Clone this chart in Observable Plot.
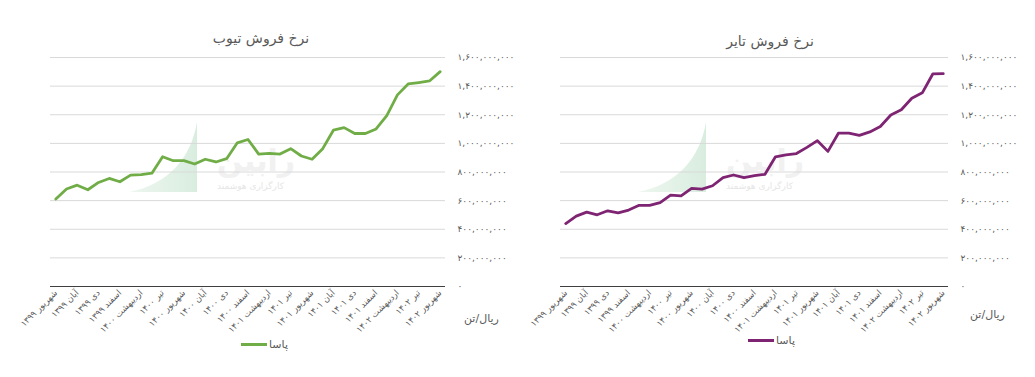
<!DOCTYPE html>
<html>
<head>
<meta charset="utf-8">
<script src="https://cdn.jsdelivr.net/npm/d3@7"></script>
<script src="https://cdn.jsdelivr.net/npm/@observablehq/plot@0.6"></script>
<style>
  html, body { margin: 0; padding: 0; background: #fff; }
  body { width: 1035px; height: 377px; position: relative; overflow: hidden; font-family: "DejaVu Sans", sans-serif; color: #595959; }
  .panel { position: absolute; top: 0; width: 525px; height: 377px; }
  .title { position: absolute; top: 30px; width: 200px; text-align: center; font-size: 14px; color: #595959; direction: rtl; }
  .unit { position: absolute; font-size: 11px; color: #595959; direction: rtl; white-space: nowrap; }
  .legend { position: absolute; font-size: 11px; color: #595959; display: flex; align-items: center; gap: 2px; }
  .legend .sw { width: 26px; height: 3px; display: inline-block; }
  .plotbox { position: absolute; top: 48px; left: 0; }
  .wm { position: absolute; pointer-events: none; }
  .wm .big { position: absolute; font-size: 30px; line-height: 34px; color: #f1f1f1; direction: rtl; white-space: nowrap; font-weight: bold; letter-spacing: 2px; }
  .wm .small { position: absolute; font-size: 9px; line-height: 11px; color: #e6e6e6; direction: rtl; white-space: nowrap; letter-spacing: 1px; }
</style>
</head>
<body>
<div id="left" class="panel" style="left:0px"></div>
<div id="right" class="panel" style="left:510px"></div>
<script>
// Monthly categories (شهریور ۱۳۹۹ .. شهریور ۱۴۰۲)
const months = [
  "شهریور ۱۳۹۹","مهر ۱۳۹۹","آبان ۱۳۹۹","آذر ۱۳۹۹","دی ۱۳۹۹","بهمن ۱۳۹۹","اسفند ۱۳۹۹",
  "فروردین ۱۴۰۰","اردیبهشت ۱۴۰۰","خرداد ۱۴۰۰","تیر ۱۴۰۰","مرداد ۱۴۰۰","شهریور ۱۴۰۰","مهر ۱۴۰۰","آبان ۱۴۰۰","آذر ۱۴۰۰","دی ۱۴۰۰","بهمن ۱۴۰۰","اسفند ۱۴۰۰",
  "فروردین ۱۴۰۱","اردیبهشت ۱۴۰۱","خرداد ۱۴۰۱","تیر ۱۴۰۱","مرداد ۱۴۰۱","شهریور ۱۴۰۱","مهر ۱۴۰۱","آبان ۱۴۰۱","آذر ۱۴۰۱","دی ۱۴۰۱","بهمن ۱۴۰۱","اسفند ۱۴۰۱",
  "فروردین ۱۴۰۲","اردیبهشت ۱۴۰۲","خرداد ۱۴۰۲","تیر ۱۴۰۲","مرداد ۱۴۰۲","شهریور ۱۴۰۲"
];
// Tube sale price, million rial per ton (پاسا)
const tubeMillions = [611,681,708,676,727,755,732,778,782,792,907,879,879,856,889,870,893,1004,1027,925,930,925,963,912,889,963,1092,1110,1069,1069,1101,1194,1339,1415,1425,1436,1501];
// Tyre sale price, million rial per ton (پاسا)
const tyreMillions = [440,492,520,501,529,515,534,567,567,586,638,633,685,680,704,760,779,760,774,784,906,920,929,972,1019,944,1071,1071,1056,1080,1118,1198,1235,1315,1353,1485,1487];
const yTicks = [0,200e6,400e6,600e6,800e6,1000e6,1200e6,1400e6,1600e6];
const seriesName = "پاسا";
const unitLabel = "ریال/تن";
const titles = { tube: "نرخ فروش تیوب", tyre: "نرخ فروش تایر" };
const colors = { tube: "#70AD47", tyre: "#7E2472" };
const watermark = { big: "رابین", small: "کارگزاری هوشمند" };

const faDigits = "۰۱۲۳۴۵۶۷۸۹";
const fa = d => d3.format(",")(d).replace(/\d/g, c => faDigits[+c]);
const xTickIdx = d3.range(0, months.length, 2);

function makePanel(el, values, color, title, marginRight, o) {
  const data = values.map((v, i) => ({i, month: months[i], value: v * 1e6}));
  const chart = Plot.plot({
    width: 520, height: 290,
    marginLeft: 50, marginRight, marginTop: 9, marginBottom: 52,
    style: {background: "transparent", fontFamily: "DejaVu Sans, sans-serif", fontSize: "9px", color: "#595959"},
    x: {type: "linear", domain: [-0.5, months.length - 0.5]},
    y: {domain: [0, 1.6e9]},
    marks: [
      Plot.gridY(yTicks, {stroke: "#d9d9d9", strokeOpacity: 1, strokeWidth: 1}),
      Plot.axisY(yTicks, {anchor: "right", tickSize: 0, tickPadding: 12, tickFormat: fa, label: null, fontSize: 9}),
      Plot.axisX(xTickIdx, {tickSize: 0, tickPadding: 5, tickRotate: -45, tickFormat: i => months[i], label: null, fontSize: 8.5}),
      Plot.ruleY([0], {stroke: "#404040", strokeWidth: 1}),
      Plot.line(data, {x: "i", y: "value", stroke: color, strokeWidth: 2.8, strokeLinejoin: "round", strokeLinecap: "round"})
    ]
  });
  // watermark (background)
  const wm = document.createElement("div");
  wm.className = "wm";
  wm.style.left = o.wmLeft + "px"; wm.style.top = "118px"; wm.style.width = "230px"; wm.style.height = "80px";
  wm.innerHTML = `<svg width="70" height="75" style="position:absolute;left:0;top:0">
      <defs><linearGradient id="g${o.id}" x1="0" x2="1" y1="0" y2="0">
        <stop offset="0" stop-color="#eef7f0"/><stop offset="1" stop-color="#d9eddf"/></linearGradient></defs>
      <path d="M68,4 L68,74 L0,74 C40,66 62,40 68,4 Z" fill="url(#g${o.id})"/></svg>
    <div class="big" style="left:88px;top:26px">${watermark.big}</div>
    <div class="small" style="left:88px;top:63px">${watermark.small}</div>`;
  el.appendChild(wm);

  const box = document.createElement("div");
  box.className = "plotbox";
  box.appendChild(chart);
  el.appendChild(box);

  const t = document.createElement("div");
  t.className = "title"; t.textContent = title;
  t.style.left = (o.titleCx - 100) + "px"; t.style.top = o.titleTop + "px";
  el.appendChild(t);

  const u = document.createElement("div");
  u.className = "unit"; u.textContent = unitLabel;
  u.style.left = o.unitLeft + "px"; u.style.top = o.unitTop + "px";
  el.appendChild(u);

  const lg = document.createElement("div");
  lg.className = "legend";
  lg.style.left = o.legLeft + "px"; lg.style.top = o.legTop + "px";
  lg.innerHTML = `<span class="sw" style="background:${color}"></span><span dir="rtl">${seriesName}</span>`;
  el.appendChild(lg);
}

makePanel(document.getElementById("left"), tubeMillions, colors.tube, titles.tube, 75,
  {id: "a", titleCx: 261, titleTop: 30, unitLeft: 464, unitTop: 312, legLeft: 241, legTop: 338, wmLeft: 129});
makePanel(document.getElementById("right"), tyreMillions, colors.tyre, titles.tyre, 82,
  {id: "b", titleCx: 260, titleTop: 33, unitLeft: 460, unitTop: 308, legLeft: 238, legTop: 334, wmLeft: 128});
</script>
</body>
</html>
